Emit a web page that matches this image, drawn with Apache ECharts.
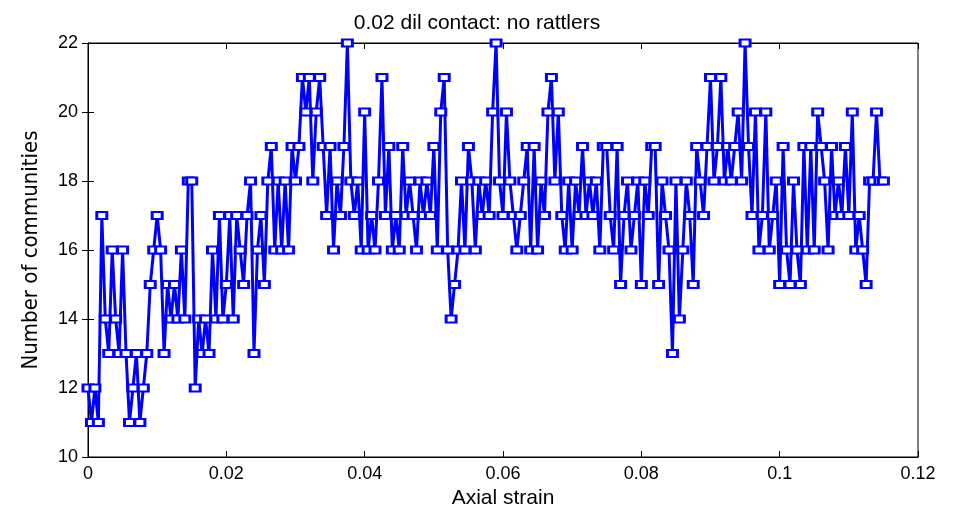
<!DOCTYPE html>
<html>
<head>
<meta charset="utf-8">
<script src="https://cdn.jsdelivr.net/npm/echarts@6/dist/echarts.min.js"></script>
<style>
  html, body { margin: 0; padding: 0; background: #fff; }
  #chart { width: 954px; height: 514px; }
</style>
</head>
<body>
<div id="chart"></div>
<script>
// axial strain step between samples
var strainStep = 0.0005;

// number of communities in order of strain
var communities = [
  12, 11, 12, 11, 17, 14, 13, 16, 14, 13,
  16, 13, 11, 12, 13, 11, 12, 13, 15, 16,
  17, 16, 13, 15, 14, 15, 14, 16, 14, 18,
  18, 12, 14, 13, 14, 13, 16, 14, 17, 14,
  15, 17, 14, 17, 16, 15, 17, 18, 13, 16,
  17, 15, 18, 19, 16, 18, 16, 18, 16, 19,
  18, 19, 21, 20, 21, 18, 20, 21, 19, 17,
  19, 16, 18, 17, 19, 22, 18, 17, 18, 16,
  20, 16, 17, 16, 18, 21, 17, 19, 16, 17,
  16, 19, 17, 18, 17, 16, 18, 17, 18, 17,
  19, 16, 20, 21, 16, 14, 15, 16, 18, 16,
  19, 18, 16, 18, 17, 18, 17, 20, 22, 18,
  17, 20, 18, 17, 16, 17, 18, 19, 16, 19,
  16, 18, 17, 20, 21, 18, 20, 17, 16, 18,
  16, 18, 17, 19, 17, 18, 17, 18, 16, 19,
  19, 17, 16, 19, 15, 17, 18, 16, 17, 18,
  15, 18, 17, 19, 19, 15, 18, 17, 16, 13,
  18, 14, 16, 18, 17, 15, 19, 18, 17, 19,
  21, 18, 19, 21, 18, 19, 18, 19, 20, 18,
  22, 19, 17, 20, 16, 17, 20, 16, 17, 18,
  15, 19, 16, 15, 18, 16, 15, 19, 16, 19,
  16, 20, 19, 18, 16, 19, 17, 18, 17, 19,
  17, 20, 16, 17, 16, 15, 18, 18, 20, 18,
  18
];

var xTicks = [0, 0.02, 0.04, 0.06, 0.08, 0.1, 0.12];
var yTicks = [10, 12, 14, 16, 18, 20, 22];

var points = communities.map(function (v, i) {
  return [+(i * strainStep).toFixed(5), v];
});

var font = 'Liberation Sans, Arial, sans-serif';

var mychart = echarts.init(document.getElementById('chart'));
var option = {
  animation: false,
  title: {
    text: '0.02 dil contact: no rattlers',
    left: 'center',
    top: 8,
    textStyle: { fontFamily: font, fontSize: 21, fontWeight: 'normal', color: '#000' }
  },
  grid: {
    left: 88, right: 36, top: 43, bottom: 51,
    show: true, borderColor: '#000', borderWidth: 1
  },
  xAxis: [
    {
      type: 'value',
      min: xTicks[0], max: xTicks[xTicks.length - 1], interval: 0.02,
      name: 'Axial strain',
      nameLocation: 'middle',
      nameGap: 31,
      nameTextStyle: { fontFamily: font, fontSize: 21, color: '#000' },
      axisLine: { onZero: false, lineStyle: { color: '#000' } },
      axisTick: { inside: true, length: 6, lineStyle: { color: '#000' } },
      axisLabel: { fontFamily: font, fontSize: 18, color: '#000', margin: 8 },
      splitLine: { show: false }
    },
    {
      type: 'value', position: 'top',
      min: xTicks[0], max: xTicks[xTicks.length - 1], interval: 0.02,
      axisLine: { lineStyle: { color: '#000' } },
      axisTick: { inside: true, length: 6, lineStyle: { color: '#000' } },
      axisLabel: { show: false },
      splitLine: { show: false }
    }
  ],
  yAxis: [
    {
      type: 'value',
      min: yTicks[0], max: yTicks[yTicks.length - 1], interval: 2,
      name: 'Number of communities',
      nameLocation: 'middle',
      nameGap: 46,
      nameRotate: 90,
      nameTextStyle: { fontFamily: 'DejaVu Sans Condensed, Liberation Sans Narrow, sans-serif', fontSize: 22, color: '#000' },
      axisLine: { lineStyle: { color: '#000' } },
      axisTick: { inside: true, length: 6, lineStyle: { color: '#000' } },
      axisLabel: { fontFamily: font, fontSize: 18, color: '#000', margin: 10 },
      splitLine: { show: false }
    },
    {
      type: 'value', position: 'right',
      min: yTicks[0], max: yTicks[yTicks.length - 1], interval: 2,
      axisLine: { lineStyle: { color: '#000' } },
      axisTick: { inside: true, length: 6, lineStyle: { color: '#000' } },
      axisLabel: { show: false },
      splitLine: { show: false }
    }
  ],
  series: [
    {
      name: 'communities',
      type: 'line',
      data: points,
      symbol: 'rect',
      symbolSize: [10, 7],
      showAllSymbol: true,
      lineStyle: { color: '#0000ff', width: 3 },
      itemStyle: { color: '#ffffff', borderColor: '#0000ff', borderWidth: 2.5 }
    }
  ]
};
mychart.setOption(option);
</script>
</body>
</html>
